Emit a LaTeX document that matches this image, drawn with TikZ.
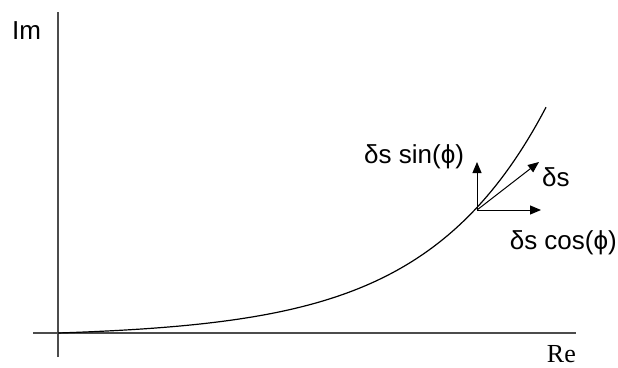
\documentclass[tikz,border=0pt]{standalone}
\usepackage{fontspec}
\setmainfont{Liberation Sans}
\newfontfamily\serifre{Liberation Serif}
\usetikzlibrary{arrows.meta}
\begin{document}
\begin{tikzpicture}[x=1pt,y=-1pt,
  axisline/.style={draw=black!70,line width=1.5pt},
  curveline/.style={draw=black,line width=1.2pt},
  vecarrow/.style={draw=black,line width=1pt,-{Triangle[length=11pt,width=9pt]}},
  lbl/.style={inner sep=0pt,font=\fontsize{26}{30}\selectfont}]
\useasboundingbox (0,0) rectangle (618,367);
% axes
\coordinate (ytop) at (58,12);
\coordinate (ybot) at (58,357);
\coordinate (xleft) at (33,333);
\coordinate (xright) at (576,333);
\path[axisline] (ybot) -- (ytop);
\path[axisline] (xleft) -- (xright);
% curve
\path[curveline] plot[domain=58:546,samples=120,smooth] ({\x},{333-4*(exp(0.0083*(\x-58))-1)});
% vectors
\coordinate (P) at (477,210);
\coordinate (vtip) at (477,162);
\coordinate (htip) at (541,210);
\coordinate (stip) at (539,162);
\path[vecarrow] (P) -- (vtip);
\path[vecarrow] (P) -- (htip);
\path[vecarrow] (P) -- (stip);
% labels
\node[lbl,anchor=base west] (im) at (12,39) {Im};
\node[lbl,anchor=base east,font=\serifre\fontsize{26}{30}\selectfont] (re) at (576,362) {Re};
\node[lbl,anchor=base west] (sinl) at (364,163) {δs sin(ϕ)};
\node[lbl,anchor=base west] (dsl) at (542,186) {δs};
\node[lbl,anchor=base east] (cosl) at (617,249) {δs cos(ϕ)};
\end{tikzpicture}
\end{document}
